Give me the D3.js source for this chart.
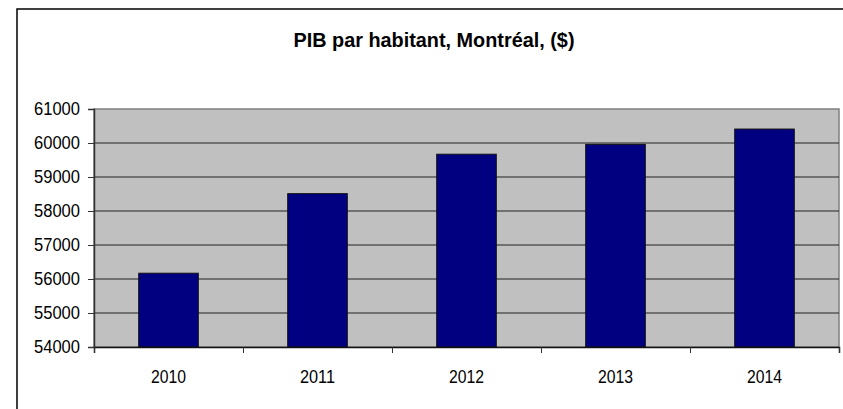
<!DOCTYPE html>
<meta charset="utf-8">
<body style="margin:0;background:#fff">
<script src="https://d3js.org/d3.v7.min.js"></script>
<script>
var width = 843,
    height = 409;

var years = ["2010", "2011", "2012", "2013", "2014"];
var pib = [56170, 58510, 59670, 59960, 60410];
var yTicks = [54000, 55000, 56000, 57000, 58000, 59000, 60000, 61000];
var title = "PIB par habitant, Montréal, ($)";

var plot = {left: 94, top: 109, right: 839, bottom: 347};

var svg = d3.select("body").append("svg")
    .attr("width", width)
    .attr("height", height)
    .style("font-family", "'Liberation Sans', Arial, sans-serif");

// outer chart frame (cut off on the right and bottom)
svg.append("rect")
    .attr("x", 17).attr("y", 9)
    .attr("width", width).attr("height", height)
    .attr("fill", "#fff")
    .attr("stroke", "#000")
    .attr("stroke-width", 1.5);

svg.append("text")
    .attr("x", 434).attr("y", 47)
    .attr("text-anchor", "middle")
    .style("font-size", "21px")
    .style("font-weight", "bold")
    .attr("textLength", 281)
    .attr("lengthAdjust", "spacingAndGlyphs")
    .text(title);

var x = d3.scaleBand()
    .domain(years)
    .range([plot.left, plot.right])
    .paddingInner(0.6)
    .paddingOuter(0.3);

var xEdges = d3.scaleLinear()
    .domain([0, years.length])
    .range([plot.left, plot.right]);

var y = d3.scaleLinear()
    .domain([54000, 61000])
    .range([plot.bottom, plot.top]);

svg.append("rect")
    .attr("x", plot.left).attr("y", plot.top)
    .attr("width", plot.right - plot.left)
    .attr("height", plot.bottom - plot.top)
    .attr("fill", "#c0c0c0")
    .attr("stroke", "#808080")
    .attr("stroke-width", 1.5);

svg.append("g")
  .selectAll("line")
  .data(yTicks.slice(1, -1))
  .join("line")
    .attr("x1", plot.left).attr("x2", plot.right)
    .attr("y1", function(d) { return y(d); })
    .attr("y2", function(d) { return y(d); })
    .attr("stroke", "#222");

svg.append("g")
  .selectAll("rect")
  .data(years)
  .join("rect")
    .attr("x", function(d) { return x(d); })
    .attr("y", function(d, i) { return y(pib[i]); })
    .attr("width", x.bandwidth())
    .attr("height", function(d, i) { return plot.bottom - y(pib[i]); })
    .attr("fill", "#000080")
    .attr("stroke", "#111")
    .attr("stroke-width", 1);

var yAxis = svg.append("g")
    .attr("transform", "translate(" + plot.left + ",0)")
    .call(d3.axisLeft(y).tickValues(yTicks).tickSize(6).tickPadding(8).tickFormat(d3.format("d")));
yAxis.select(".domain").attr("stroke", "#333").attr("stroke-width", 1.5);
yAxis.selectAll(".tick line").attr("stroke", "#333");
yAxis.selectAll("text")
    .style("font-size", "17.5px")
    .attr("fill", "#000")
    .attr("textLength", 46)
    .attr("lengthAdjust", "spacingAndGlyphs");

var xAxis = svg.append("g")
    .attr("transform", "translate(0," + plot.bottom + ")")
    .call(d3.axisBottom(xEdges).ticks(years.length).tickSize(6).tickFormat(""));
xAxis.select(".domain").attr("stroke", "#111").attr("stroke-width", 1.5);
xAxis.selectAll(".tick line").attr("stroke", "#333");

var xLabels = svg.append("g")
    .attr("transform", "translate(0," + plot.bottom + ")")
    .call(d3.axisBottom(x).tickSize(0).tickPadding(23));
xLabels.select(".domain").remove();
xLabels.selectAll("text")
    .style("font-size", "19px")
    .attr("fill", "#000")
    .attr("textLength", 35)
    .attr("lengthAdjust", "spacingAndGlyphs");
</script>
</body>
